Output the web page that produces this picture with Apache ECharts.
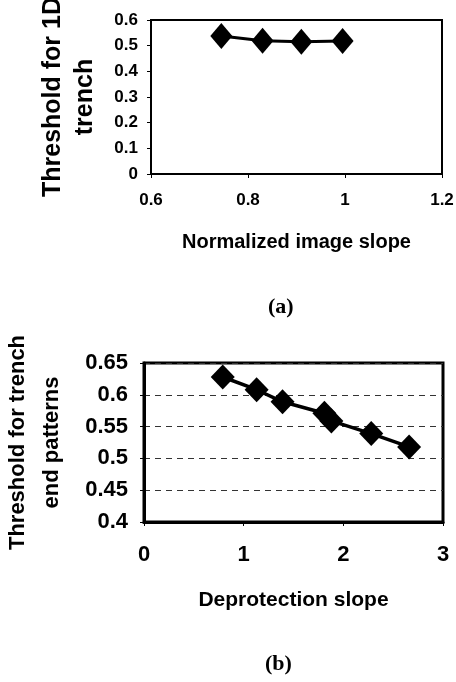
<!DOCTYPE html>
<html>
<head>
<meta charset="utf-8">
<script src="https://cdn.jsdelivr.net/npm/echarts@6/dist/echarts.min.js"></script>
<style>
    html, body { margin: 0; padding: 0; background: #fff; }
    #chart { width: 456px; height: 682px; }
</style>
</head>
<body>
<div id="chart"></div>
<script>
// ---
// data: panel (a) threshold vs normalized image slope
// ---
var slopeA = [0.745, 0.83, 0.91, 0.995];
var thresholdA = [0.538, 0.519, 0.515, 0.518];
var xTicksA = [0.6, 0.8, 1.0, 1.2];

// ---
// data: panel (b) threshold vs deprotection slope
// ---
var slopeB = [0.79, 1.13, 1.39, 1.81, 1.88, 2.28, 2.66];
var thresholdB = [0.628, 0.608, 0.589, 0.571, 0.559, 0.539, 0.518];
var xTicksB = [0, 1, 2, 3];

function pairs(xs, ys) {
    return xs.map(function (x, i) { return [x, ys[i]]; });
}
function fmt(v) {
    return String(+v.toFixed(2));
}

var sans = 'Liberation Sans, Arial, sans-serif';
var chart = echarts.init(document.getElementById('chart'));

var frame = {show: true, lineStyle: {color: '#000', width: 2}};
var ticks = {show: true, inside: false, length: 4, lineStyle: {color: '#000', width: 1}};

chart.setOption({
    animation: false,
    backgroundColor: '#fff',
    grid: [
        {left: 151, top: 20, width: 291, height: 154, show: true, outerBoundsMode: 'none', containLabel: false,
         borderColor: '#000', borderWidth: 2, backgroundColor: '#fff'},
        {left: 144, top: 363, width: 299, height: 159, show: true, outerBoundsMode: 'none', containLabel: false,
         borderColor: '#000', borderWidth: 3, backgroundColor: '#fff'}
    ],
    xAxis: [
        {gridIndex: 0, type: 'value', min: xTicksA[0], max: xTicksA[xTicksA.length - 1], interval: 0.2,
         axisLine: frame, axisTick: ticks, splitLine: {show: false},
         axisLabel: {formatter: fmt, color: '#000', fontFamily: sans, fontWeight: 'bold', fontSize: 17, margin: 18},
         name: 'Normalized image slope', nameLocation: 'middle', nameGap: 58,
         nameTextStyle: {color: '#000', fontFamily: sans, fontWeight: 'bold', fontSize: 20}},
        {gridIndex: 1, type: 'value', min: xTicksB[0], max: xTicksB[xTicksB.length - 1], interval: 1,
         axisLine: {show: true, lineStyle: {color: '#000', width: 3}}, axisTick: ticks, splitLine: {show: false},
         axisLabel: {formatter: fmt, color: '#000', fontFamily: sans, fontWeight: 'bold', fontSize: 22, margin: 22},
         name: 'Deprotection slope', nameLocation: 'middle', nameGap: 68,
         nameTextStyle: {color: '#000', fontFamily: sans, fontWeight: 'bold', fontSize: 21}}
    ],
    yAxis: [
        {gridIndex: 0, type: 'value', min: 0, max: 0.6, interval: 0.1,
         axisLine: frame, axisTick: ticks, splitLine: {show: false},
         axisLabel: {formatter: fmt, color: '#000', fontFamily: sans, fontWeight: 'bold', fontSize: 17, margin: 13},
         name: 'Threshold for 1D\ntrench', nameLocation: 'middle', nameRotate: 90, nameGap: 50,
         nameTextStyle: {color: '#000', fontFamily: sans, fontWeight: 'bold', fontSize: 25, lineHeight: 32}},
        {gridIndex: 1, type: 'value', min: 0.4, max: 0.65, interval: 0.05,
         axisLine: {show: true, lineStyle: {color: '#000', width: 3}}, axisTick: ticks,
         splitLine: {show: true, lineStyle: {color: '#333', width: 1, type: [6, 5]}},
         axisLabel: {formatter: fmt, color: '#000', fontFamily: sans, fontWeight: 'bold', fontSize: 22, margin: 16},
         name: 'Threshold for trench\nend patterns', nameLocation: 'middle', nameRotate: 90, nameGap: 75,
         nameTextStyle: {color: '#000', fontFamily: sans, fontWeight: 'bold', fontSize: 22, lineHeight: 34}}
    ],
    series: [
        {type: 'line', xAxisIndex: 0, yAxisIndex: 0, data: pairs(slopeA, thresholdA),
         symbol: 'diamond', symbolSize: [22, 26],
         itemStyle: {color: '#000'}, lineStyle: {color: '#000', width: 3}},
        {type: 'line', xAxisIndex: 1, yAxisIndex: 1, data: pairs(slopeB, thresholdB),
         symbol: 'diamond', symbolSize: [24, 25],
         itemStyle: {color: '#000'}, lineStyle: {color: '#000', width: 3.5}}
    ],
    graphic: [
        {type: 'text', left: 268, top: 296,
         style: {text: '(a)', fill: '#000', font: 'bold 22px "Liberation Serif", serif'}},
        {type: 'text', left: 265, top: 653,
         style: {text: '(b)', fill: '#000', font: 'bold 22px "Liberation Serif", serif'}}
    ]
});
</script>
</body>
</html>
